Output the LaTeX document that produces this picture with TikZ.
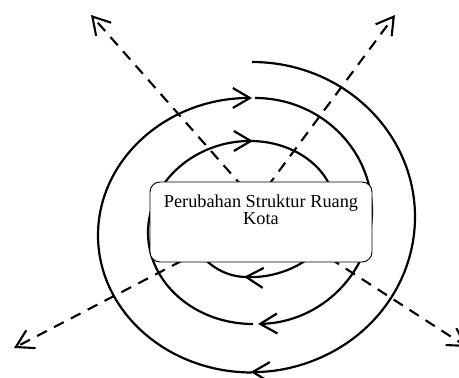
\documentclass[tikz,border=0pt]{standalone}
\usepackage{fontspec}
\setmainfont{Liberation Serif}
\usetikzlibrary{arrows.meta}
\begin{document}
\begin{tikzpicture}[x=1pt,y=1pt,
  ring/.style={line width=2.2pt},
  flow/.style={ring, -{Straight Barb[length=17pt,width=20pt]}},
  ray/.style={line width=2.1pt, dash pattern=on 11pt off 8pt,
    -{Straight Barb[length=17pt,width=20pt]}},
  panel/.style={draw=black, line width=0.9pt, fill=white, rounded corners=10pt,
    minimum width=222pt, minimum height=80pt, inner sep=0pt},
  caption/.style={font=\fontsize{18.3}{15.6}\selectfont, align=center, inner sep=0pt}]
\useasboundingbox (0,0) rectangle (459,378);

% hubs behind the central panel and the outer tips of the rays
\coordinate (hubN) at (256,176);
\coordinate (hubS) at (266,161);
\coordinate (tipNW) at (91,363);
\coordinate (tipNE) at (395,363);
\coordinate (tipSW) at (14,30);
\coordinate (tipSE) at (467,31);

% dashed rays
\draw[ray] (hubN) -- (tipNW);
\draw[ray] (hubN) -- (tipNE);
\draw[ray] (hubS) -- (tipSW);
\draw[ray] (hubS) -- (tipSE);

% clockwise spiral, from the outer free end inwards
\draw[flow] (252,316) arc[start angle=90, end angle=-90.5, x radius=163, y radius=155];
\draw[flow] (252,5.5) arc[start angle=270, end angle=90, x radius=154, y radius=137.25];
\draw[flow] (255,280) arc[start angle=90, end angle=-88.5, x radius=117, y radius=113];
\draw[flow] (253,54) arc[start angle=270, end angle=90, x radius=105, y radius=91.5];
\draw[flow] (250,237) arc[start angle=90, end angle=-94, x radius=85, y radius=68];
\draw[ring] (247,101) arc[start angle=270, end angle=180, x radius=60, y radius=62];

% central panel
\node[panel] (hub) at (261,156) {};
\node[caption, anchor=north] (title) at (261,183) {Perubahan Struktur Ruang\\Kota};
\end{tikzpicture}
\end{document}
